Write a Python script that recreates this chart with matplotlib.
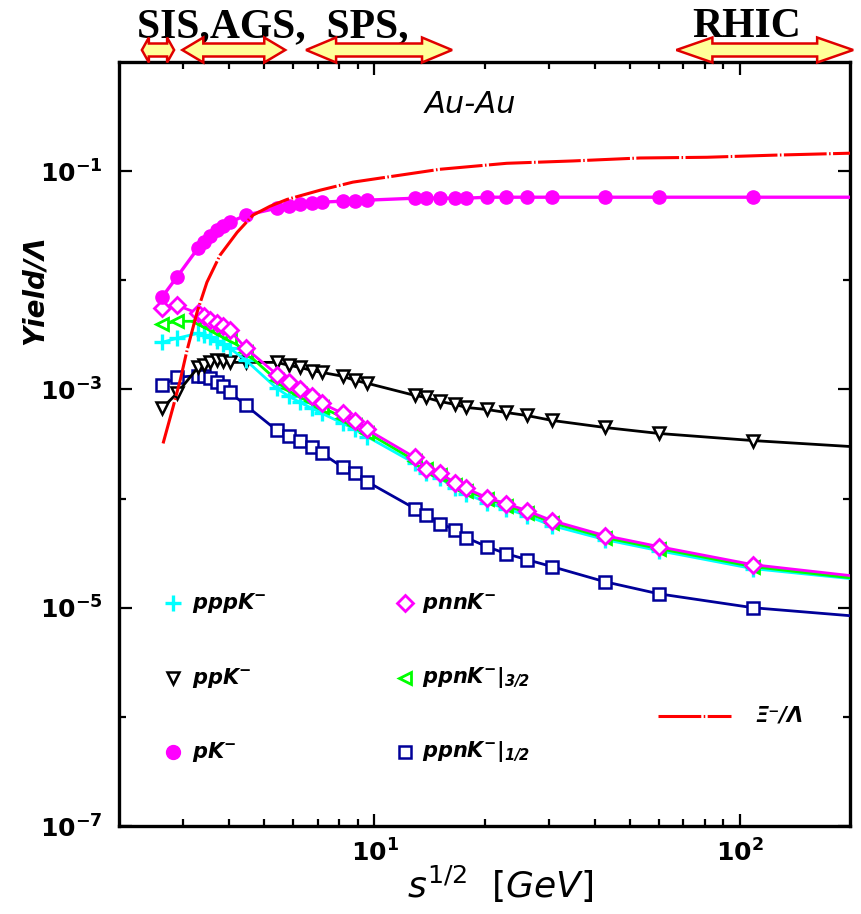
import matplotlib
matplotlib.use("Agg")
import matplotlib.pyplot as plt
from matplotlib.patches import Polygon
from matplotlib.transforms import IdentityTransform
from matplotlib.ticker import FixedLocator, FixedFormatter, NullFormatter

plt.rcParams['mathtext.fontset'] = 'dejavusans'
plt.rcParams['font.family'] = ['DejaVu Sans']

# ---------------- data ----------------
energy = [2.62, 2.88, 3.29, 3.42, 3.55, 3.71, 3.85, 4.02, 4.45, 5.41, 5.84, 6.26,
          6.75, 7.19, 8.20, 8.84, 9.54, 12.9, 13.8, 15.1, 16.6, 17.8, 20.3, 22.9,
          26.1, 30.6, 42.7, 60.0, 108.5]
energy_end = 200.0

pK = [6.98e-3, 1.07e-2, 1.97e-2, 2.23e-2, 2.53e-2, 2.87e-2, 3.13e-2, 3.40e-2,
      3.95e-2, 4.58e-2, 4.77e-2, 4.98e-2, 5.09e-2, 5.20e-2, 5.31e-2, 5.31e-2,
      5.42e-2, 5.65e-2, 5.65e-2, 5.65e-2, 5.65e-2, 5.65e-2, 5.77e-2, 5.77e-2,
      5.77e-2, 5.77e-2, 5.77e-2, 5.77e-2, 5.77e-2]
pK_end = 5.77e-2

ppK = [6.69e-4, 9.19e-4, 1.59e-3, 1.66e-3, 1.77e-3, 1.85e-3, 1.81e-3, 1.77e-3,
       1.77e-3, 1.77e-3, 1.66e-3, 1.59e-3, 1.49e-3, 1.43e-3, 1.32e-3, 1.21e-3,
       1.14e-3, 8.81e-4, 8.44e-4, 7.76e-4, 7.29e-4, 6.84e-4, 6.55e-4, 6.15e-4,
       5.77e-4, 5.20e-4, 4.48e-4, 3.95e-4, 3.40e-4]
ppK_end = 3.00e-4

pnnK = [5.53e-3, 5.90e-3, 4.98e-3, 4.67e-3, 4.30e-3, 4.03e-3, 3.78e-3, 3.48e-3,
        2.38e-3, 1.37e-3, 1.18e-3, 1.00e-3, 8.63e-4, 7.44e-4, 6.02e-4, 5.09e-4,
        4.30e-4, 2.38e-4, 1.88e-4, 1.70e-4, 1.40e-4, 1.24e-4, 1.02e-4, 9.00e-5,
        7.76e-5, 6.28e-5, 4.58e-5, 3.63e-5, 2.48e-5]
pnnK_end = 1.97e-5

ppnK32 = [3.95e-3, 4.21e-3, 4.21e-3, 3.95e-3, 3.71e-3, 3.40e-3, 3.20e-3, 2.94e-3,
          2.18e-3, 1.21e-3, 1.04e-3, 9.00e-4, 7.76e-4, 6.84e-4, 5.53e-4, 4.77e-4,
          4.03e-4, 2.23e-4, 1.85e-4, 1.63e-4, 1.34e-4, 1.18e-4, 1.00e-4, 8.63e-5,
          7.44e-5, 6.02e-5, 4.39e-5, 3.48e-5, 2.38e-5]
ppnK32_end = 1.88e-5

pppK = [2.70e-3, 2.94e-3, 3.27e-3, 3.13e-3, 3.00e-3, 2.76e-3, 2.59e-3, 2.38e-3,
        1.85e-3, 1.02e-3, 8.63e-4, 7.60e-4, 6.69e-4, 6.02e-4, 4.88e-4, 4.30e-4,
        3.70e-4, 2.10e-4, 1.73e-4, 1.53e-4, 1.26e-4, 1.11e-4, 9.19e-5, 8.10e-5,
        6.98e-5, 5.65e-5, 4.21e-5, 3.33e-5, 2.28e-5]
pppK_end = 1.85e-5

ppnK12 = [1.09e-3, 1.29e-3, 1.34e-3, 1.32e-3, 1.26e-3, 1.16e-3, 1.07e-3, 9.39e-4,
          7.13e-4, 4.21e-4, 3.78e-4, 3.40e-4, 2.94e-4, 2.59e-4, 1.93e-4, 1.73e-4,
          1.43e-4, 8.10e-5, 7.13e-5, 5.90e-5, 5.20e-5, 4.39e-5, 3.63e-5, 3.13e-5,
          2.76e-5, 2.38e-5, 1.73e-5, 1.34e-5, 1.00e-5]
ppnK12_end = 8.45e-6

xi_energy = [2.64, 2.81, 2.94, 3.07, 3.27, 3.48, 3.78, 4.21, 4.65, 5.18, 5.76,
             7.10, 8.73, 10.8, 15.1, 23.0, 34.9, 53.3, 81.2, 123.0, 200.0]
xi_ratio = [3.20e-4, 6.84e-4, 1.21e-3, 2.28e-3, 5.09e-3, 9.59e-3, 1.70e-2, 2.75e-2,
            3.95e-2, 4.77e-2, 5.50e-2, 6.69e-2, 7.93e-2, 8.81e-2, 0.104, 0.118,
            0.124, 0.132, 0.134, 0.140, 0.146]

x_major = [10, 100]
x_major_labels = [r'$\mathbf{10^{1}}$', r'$\mathbf{10^{2}}$']
x_minor = [3, 4, 5, 6, 7, 8, 9, 20, 30, 40, 50, 60, 70, 80, 90]
y_major = [1e-7, 1e-5, 1e-3, 1e-1]
y_major_labels = [r'$\mathbf{10^{-7}}$', r'$\mathbf{10^{-5}}$', r'$\mathbf{10^{-3}}$', r'$\mathbf{10^{-1}}$']
y_minor = [1e-6, 1e-4, 1e-2]

# facility arrows: (sqrt(s) range, head length in px)
arrows = [(2.31, 2.83, 7), (2.98, 5.7, 21), (6.5, 16.3, 30), (67.0, 204.0, 36)]

# ---------------- figure ----------------
W, H = 861, 914
fig = plt.figure(figsize=(W / 100, H / 100), dpi=100)
L, R, T, B = 119, 850, 62, 826
ax = fig.add_axes([L / W, 1 - B / H, (R - L) / W, (B - T) / H])
ax.set_xscale('log')
ax.set_yscale('log')
ax.set_xlim(2, 200)
ax.set_ylim(1e-7, 1)

for s in ax.spines.values():
    s.set_linewidth(2.4)

ax.xaxis.set_major_locator(FixedLocator(x_major))
ax.xaxis.set_major_formatter(FixedFormatter(x_major_labels))
ax.xaxis.set_minor_locator(FixedLocator(x_minor))
ax.xaxis.set_minor_formatter(NullFormatter())
ax.yaxis.set_major_locator(FixedLocator(y_major))
ax.yaxis.set_major_formatter(FixedFormatter(y_major_labels))
ax.yaxis.set_minor_locator(FixedLocator(y_minor))
ax.yaxis.set_minor_formatter(NullFormatter())
ax.tick_params(which='both', direction='in', top=True, right=True, width=1.6)
ax.tick_params(which='major', length=9, labelsize=18)
ax.tick_params(which='minor', length=5)
ax.tick_params(axis='x', which='major', pad=10)
ax.tick_params(axis='y', which='major', pad=12)

def series(vals, end, color, marker, ms, mew, mfc, z, lw=2.0):
    ax.plot(energy + [energy_end], vals + [end], '-', color=color, lw=lw, zorder=z)
    ax.plot(energy, vals, linestyle='none', marker=marker, ms=ms, mew=mew,
            mec=color, mfc=mfc, zorder=z + 0.5)

navy = '#000099'
xi_style = (0, (14, 0.8, 0.5, 0.8))
series(ppnK12, ppnK12_end, navy, 's', 9, 1.8, 'white', 3)
series(ppK, ppK_end, 'black', 'v', 8.5, 1.8, 'white', 4)
series(pppK, pppK_end, '#00ffff', '+', 11, 2.4, 'none', 5)
series(ppnK32, ppnK32_end, '#00ff00', '<', 8.5, 2.0, 'white', 6)
series(pnnK, pnnK_end, '#ff00ff', 'D', 8.5, 2.0, 'white', 7)
series(pK, pK_end, '#ff00ff', 'o', 9.5, 1.0, '#ff00ff', 8, lw=2.4)
ax.plot(xi_energy, xi_ratio, color='red', lw=2.2, linestyle=xi_style, zorder=9)

# ---------------- texts ----------------
ax.text(0.48, 0.944, 'Au-Au', transform=ax.transAxes, ha='center', va='center',
        fontsize=22, style='italic')
fig.text(35 / W, 1 - 290 / H, 'Yield/Λ', rotation=90, ha='center', va='center',
         fontsize=20, style='italic', weight='bold')
fig.text(500 / W, 1 - 884 / H, r'$\mathit{s^{1/2}}$  $\mathit{[GeV]}$', ha='center',
         va='center', fontsize=26)

# legend
lx1, lx2, tx1, tx2 = 0.0739, 0.3912, 0.0999, 0.4145
rows = [0.292, 0.194, 0.097]
ax.plot([lx1], [rows[0]], transform=ax.transAxes, marker='+', ms=11, mew=2.4,
        color='#00ffff', ls='none')
ax.plot([lx1], [rows[1]], transform=ax.transAxes, marker='v', ms=8, mew=1.8,
        mec='black', mfc='white', ls='none')
ax.plot([lx1], [rows[2]], transform=ax.transAxes, marker='o', ms=10,
        color='#ff00ff', ls='none')
ax.plot([lx2], [rows[0]], transform=ax.transAxes, marker='D', ms=8, mew=2.0,
        mec='#ff00ff', mfc='white', ls='none')
ax.plot([lx2], [rows[1]], transform=ax.transAxes, marker='<', ms=8, mew=2.0,
        mec='#00ff00', mfc='white', ls='none')
ax.plot([lx2], [rows[2]], transform=ax.transAxes, marker='s', ms=8, mew=1.8,
        mec=navy, mfc='white', ls='none')
labels_left = [r'$\mathbfit{pppK}^{\mathbf{-}}$', r'$\mathbfit{ppK}^{\mathbf{-}}$',
               r'$\mathbfit{pK}^{\mathbf{-}}$']
labels_right = [r'$\mathbfit{pnnK}^{\mathbf{-}}$',
                r'$\mathbfit{ppnK}^{\mathbf{-}}\mathbfit{|}_{\mathbfit{3/2}}$',
                r'$\mathbfit{ppnK}^{\mathbf{-}}\mathbfit{|}_{\mathbfit{1/2}}$']
for r, lab in zip(rows, labels_left):
    ax.text(tx1, r, lab, transform=ax.transAxes, ha='left', va='center', fontsize=15)
for r, lab in zip(rows, labels_right):
    ax.text(tx2, r, lab, transform=ax.transAxes, ha='left', va='center', fontsize=15)
ax.plot([0.7373, 0.8372], [0.144, 0.144], transform=ax.transAxes, color='red',
        lw=2.2, linestyle=xi_style)
ax.text(0.870, 0.144, 'Ξ⁻/Λ', transform=ax.transAxes, ha='left', va='center',
        fontsize=15, style='italic', weight='bold')

# ---------------- facility labels & arrows ----------------
fig.text(137 / W, 1 - 37 / H, 'SIS,AGS,  SPS,', ha='left', va='baseline',
         fontsize=30, family='Liberation Serif', weight='bold')
fig.text(692 / W, 1 - 37 / H, 'RHIC', ha='left', va='baseline',
         fontsize=30, family='Liberation Serif', weight='bold')

yc = H - 50
hh, sh = 12.5, 6.5
for e0, e1, hl in arrows:
    x0 = ax.transData.transform((e0, 1e-3))[0]
    x1 = ax.transData.transform((e1, 1e-3))[0]
    pts = [(x0, yc), (x0 + hl, yc + hh), (x0 + hl, yc + sh), (x1 - hl, yc + sh),
           (x1 - hl, yc + hh), (x1, yc), (x1 - hl, yc - hh), (x1 - hl, yc - sh),
           (x0 + hl, yc - sh), (x0 + hl, yc - hh)]
    poly = Polygon(pts, closed=True, facecolor='#ffff99', edgecolor='#e00000',
                   lw=1.8, transform=IdentityTransform(), zorder=10)
    fig.add_artist(poly)

fig.savefig('out.png', dpi=100)
